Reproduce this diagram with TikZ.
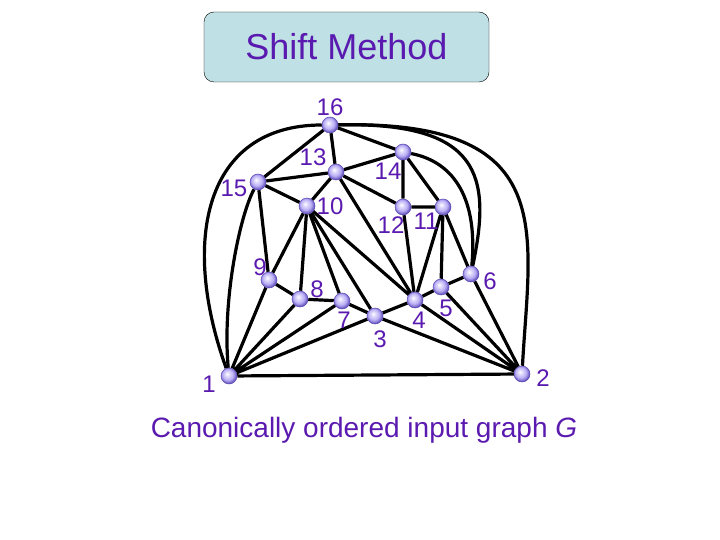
\documentclass[tikz,border=0pt]{standalone}
\usepackage{fontspec}
\setmainfont{Liberation Sans}
\usetikzlibrary{backgrounds}
\definecolor{titlefill}{HTML}{BFE0E4}
\definecolor{labelc}{HTML}{5A1AB0}
\definecolor{ballc}{HTML}{B9AEF5}
\definecolor{balledge}{HTML}{5C4AB8}
\pgfdeclareradialshading{vball}{\pgfpoint{-6bp}{7bp}}{%
  color(0bp)=(white); color(6bp)=(white!60!ballc); color(17bp)=(ballc);
  color(27bp)=(balledge); color(50bp)=(balledge)}

\begin{document}
\begin{tikzpicture}[x=1pt, y=-1pt,
  vtx/.style={circle, inner sep=0pt, minimum size=16pt, shading=vball, draw=balledge, line width=0.5pt},
  edge/.style={line width=3.2pt, black},
  num/.style={text=labelc, font=\fontsize{24}{24}\selectfont, inner sep=0pt}]
  \useasboundingbox (0,0) rectangle (720,540);

  % title and caption
  \node[draw, rounded corners=10pt, fill=titlefill, minimum width=285pt, minimum height=70pt,
        text=labelc, font=\fontsize{36}{36}\selectfont] (title) at (346.5,47) {Shift Method};
  \node[text=labelc, font=\fontsize{28}{28}\selectfont] (caption) at (364,430)
        {Canonically ordered input graph \textit{G}};

  % vertices
  \node[vtx] (n16) at (330,125) {};
  \node[vtx] (n13) at (336,172) {};
  \node[vtx] (n14) at (403,152) {};
  \node[vtx] (n15) at (258,182) {};
  \node[vtx] (n10) at (307,206) {};
  \node[vtx] (n12) at (403,207) {};
  \node[vtx] (n11) at (443,207) {};
  \node[vtx] (n9) at (269,280) {};
  \node[vtx] (n8) at (300,299) {};
  \node[vtx] (n7) at (342,301) {};
  \node[vtx] (n3) at (375,316) {};
  \node[vtx] (n4) at (415,300) {};
  \node[vtx] (n5) at (441,287) {};
  \node[vtx] (n6) at (471,274) {};
  \node[vtx] (n1) at (229,376) {};
  \node[vtx] (n2) at (522,374) {};

  % vertex numbers
  \node[num] at (330,107) {16};
  \node[num] at (313,157) {13};
  \node[num] at (388,171) {14};
  \node[num] at (234,188) {15};
  \node[num] at (330,206) {10};
  \node[num] at (391,225) {12};
  \node[num] at (426,221) {11};
  \node[num] at (260,267) {9};
  \node[num] at (317,289) {8};
  \node[num] at (344,320) {7};
  \node[num] at (380,339) {3};
  \node[num] at (419,320) {4};
  \node[num] at (446,308) {5};
  \node[num] at (490,281) {6};
  \node[num] at (209,384) {1};
  \node[num] at (543,378) {2};

  % edges
  \begin{pgfonlayer}{background}
    \draw[edge] (n1) -- (n2) (n1) -- (n3) (n1) -- (n7) (n1) -- (n8) (n1) -- (n9);
    \draw[edge] (n2) -- (n3) (n2) -- (n4) (n2) -- (n5) (n2) -- (n6);
    \draw[edge] (n3) -- (n4) (n3) -- (n7) (n3) -- (n10);
    \draw[edge] (n4) -- (n5) (n4) -- (n10) (n4) -- (n13) (n4) -- (n12) (n4) -- (n11);
    \draw[edge] (n5) -- (n6) (n5) -- (n11) (n6) -- (n11);
    \draw[edge] (n7) -- (n8) (n7) -- (n10) (n8) -- (n9) (n8) -- (n10);
    \draw[edge] (n9) -- (n10) (n9) -- (n15);
    \draw[edge] (n10) -- (n15) (n10) -- (n13);
    \draw[edge] (n12) -- (n11) (n12) -- (n13) (n12) -- (n14) (n11) -- (n14);
    \draw[edge] (n13) -- (n14) (n13) -- (n15) (n13) -- (n16);
    \draw[edge] (n16) -- (n15) (n16) -- (n14);
    % outer arcs
    \draw[edge] (n16) .. controls (205,125) and (180,240) .. (n1);
    \draw[edge] (n15) .. controls (240,215) and (222,300) .. (n1);
    \draw[edge] (n16) .. controls (560,120) and (530,230) .. (n2);
    \draw[edge] (n16) .. controls (480,122) and (492,175) .. (n6);
    \draw[edge] (n14) .. controls (455,162) and (478,200) .. (n6);
  \end{pgfonlayer}
\end{tikzpicture}
\end{document}
